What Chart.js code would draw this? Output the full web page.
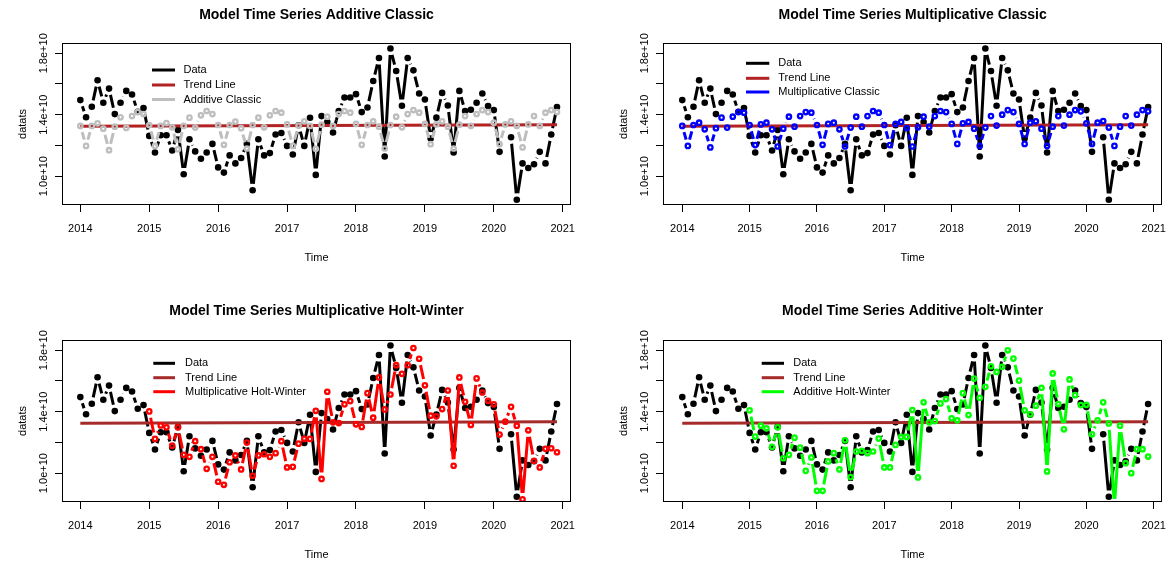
<!DOCTYPE html>
<html>
<head>
<meta charset="utf-8">
<script src="https://cdn.jsdelivr.net/npm/chart.js@4.4.0/dist/chart.umd.min.js"></script>
<style>
    body { margin: 0; background: #fff; width: 1176px; height: 566px; overflow: hidden; position: relative; }
    canvas { position: absolute; }
</style>
</head>
<body>
<canvas id="p1" width="600" height="283" style="left:0;top:0"></canvas>
<canvas id="p2" width="576" height="283" style="left:600px;top:0"></canvas>
<canvas id="p3" width="600" height="283" style="left:0;top:283px"></canvas>
<canvas id="p4" width="576" height="283" style="left:600px;top:283px"></canvas>
<script>
// monthly series, Jan 2014 .. Dec 2020, values in units of 1e10
const startYear = 2014;
const xTickYears = [2014, 2015, 2016, 2017, 2018, 2019, 2020, 2021];
const yTickVals = [1.0, 1.2, 1.4, 1.6, 1.8];
const yTickLabels = ['1.0e+10', '', '1.4e+10', '', '1.8e+10'];

const dataSeries = [
    1.495, 1.383, 1.452, 1.624, 1.478, 1.570, 1.404, 1.478, 1.555, 1.532, 1.419, 1.443,
    1.262, 1.154, 1.266, 1.266, 1.167, 1.301, 1.012, 1.240, 1.161, 1.113, 1.154, 1.210,
    1.057, 1.023, 1.135, 1.083, 1.118, 1.210, 0.908, 1.240, 1.135, 1.150, 1.271, 1.281,
    1.197, 1.141, 1.331, 1.197, 1.380, 1.008, 1.391, 1.353, 1.284, 1.424, 1.512, 1.512,
    1.534, 1.417, 1.447, 1.620, 1.769, 1.128, 1.831, 1.685, 1.458, 1.769, 1.689, 1.538,
    1.499, 1.245, 1.381, 1.542, 1.460, 1.154, 1.555, 1.424, 1.432, 1.478, 1.538, 1.456,
    1.430, 1.158, null, 1.253, 0.846, 1.083, 1.053, 1.077, 1.158, 1.083, 1.271, 1.450
];

const additiveClassic = [
    1.327, 1.197, 1.327, 1.344, 1.309, 1.169, 1.322, 1.383, 1.314, 1.391, 1.417, 1.404,
    1.333, 1.197, 1.327, 1.346, 1.318, 1.175, 1.327, 1.381, 1.316, 1.396, 1.424, 1.404,
    1.333, 1.204, 1.333, 1.355, 1.312, 1.180, 1.333, 1.381, 1.318, 1.396, 1.424, 1.413,
    1.337, 1.197, 1.329, 1.357, 1.327, 1.178, 1.335, 1.387, 1.327, 1.404, 1.424, 1.413,
    1.340, 1.204, 1.333, 1.357, 1.322, 1.180, 1.333, 1.387, 1.318, 1.404, 1.430, 1.413,
    1.340, 1.208, 1.337, 1.357, 1.322, 1.180, 1.335, 1.391, 1.327, 1.404, 1.430, 1.417,
    1.348, 1.208, 1.337, 1.357, 1.327, 1.187, 1.337, 1.391, 1.327, 1.413, 1.430, 1.417
];

const multiplicativeClassic = [
    1.327, 1.197, 1.333, 1.348, 1.305, 1.187, 1.312, 1.381, 1.316, 1.387, 1.417, 1.413,
    1.333, 1.202, 1.337, 1.348, 1.305, 1.193, 1.309, 1.387, 1.322, 1.391, 1.417, 1.413,
    1.333, 1.204, 1.340, 1.348, 1.305, 1.193, 1.316, 1.387, 1.322, 1.391, 1.424, 1.413,
    1.333, 1.202, 1.340, 1.353, 1.313, 1.193, 1.318, 1.387, 1.322, 1.391, 1.424, 1.417,
    1.340, 1.210, 1.344, 1.353, 1.309, 1.197, 1.316, 1.391, 1.329, 1.400, 1.430, 1.417,
    1.340, 1.210, 1.348, 1.357, 1.309, 1.197, 1.322, 1.391, 1.329, 1.400, 1.430, 1.422,
    1.344, 1.210, 1.348, 1.359, 1.316, 1.197, 1.322, 1.391, 1.329, 1.400, 1.430, 1.422
];

// Holt-Winters fits start in 2015
const multiplicativeHW = [
    null, null, null, null, null, null, null, null, null, null, null, null,
    1.402, 1.223, 1.311, 1.298, 1.179, 1.298, 1.119, 1.106, 1.208, 1.156, 1.028, 1.106,
    0.944, 0.924, 1.071, 1.115, 1.024, 1.199, 0.983, 1.115, 1.123, 1.106, 1.130, 1.208,
    1.037, 1.041, 1.192, 1.223, 1.223, 1.406, 0.962, 1.530, 1.331, 1.326, 1.448, 1.469,
    1.318, 1.301, 1.521, 1.361, 1.623, 1.415, 1.512, 1.703, 1.647, 1.703, 1.815, 1.745,
    1.572, 1.374, 1.370, 1.417, 1.538, 1.048, 1.623, 1.465, 1.314, 1.617, 1.525, 1.471,
    1.448, 1.251, 1.335, 1.432, 1.309, 0.829, 1.279, 1.080, 1.037, 1.158, 1.162, 1.136
];

const additiveHW = [
    null, null, null, null, null, null, null, null, null, null, null, null,
    1.409, 1.238, 1.309, 1.292, 1.171, 1.298, 1.097, 1.119, 1.231, 1.166, 1.015, 1.102,
    0.885, 0.885, 1.076, 1.130, 1.024, 1.214, 0.974, 1.141, 1.145, 1.130, 1.141, 1.225,
    1.037, 1.037, 1.184, 1.236, 1.236, 1.411, 0.972, 1.461, 1.331, 1.339, 1.454, 1.482,
    1.357, 1.344, 1.521, 1.378, 1.616, 1.491, 1.562, 1.696, 1.659, 1.692, 1.800, 1.746,
    1.603, 1.409, 1.383, 1.439, 1.556, 1.011, 1.649, 1.450, 1.285, 1.610, 1.508, 1.443,
    1.445, 1.253, 1.344, 1.461, 1.324, 0.790, 1.309, 1.065, 1.000, 1.156, 1.156, 1.108
];

const trendTimes = [2014, 2020.917];
const trendVals = [1.325, 1.335];

const FONT = '"Liberation Sans", Arial, Helvetica, sans-serif';
const GAP = 6.5; // R type="b" leaves a gap round each point

const monthTimes = dataSeries.map((_, i) => startYear + i / 12);
const toPoints = (vals) => vals.map((v, i) => ({ x: monthTimes[i], y: v }));

// draws the broken line segments of R's type="b"
const bTypePlugin = {
    id: 'bType',
    afterDatasetDraw(chart, args) {
        const ds = chart.data.datasets[args.index];
        if (!ds.gapLine) return;
        const pts = args.meta.data;
        const a = chart.chartArea;
        const ctx = chart.ctx;
        ctx.save();
        ctx.beginPath();
        ctx.rect(a.left, a.top, a.right - a.left, a.bottom - a.top);
        ctx.clip();
        ctx.strokeStyle = ds.lineColor;
        ctx.lineWidth = 3;
        ctx.lineCap = 'butt';
        ctx.beginPath();
        for (let i = 1; i < pts.length; i++) {
            const p = pts[i - 1], q = pts[i];
            if (p.skip || q.skip) continue;
            const dx = q.x - p.x, dy = q.y - p.y;
            const len = Math.hypot(dx, dy);
            if (len <= 2 * GAP) continue;
            const ux = dx / len, uy = dy / len;
            ctx.moveTo(p.x + ux * GAP, p.y + uy * GAP);
            ctx.lineTo(q.x - ux * GAP, q.y - uy * GAP);
        }
        ctx.stroke();
        ctx.restore();
    }
};

// box, title, axis titles, y tick labels and legend
const decoPlugin = {
    id: 'deco',
    afterDraw(chart, args, o) {
        const ctx = chart.ctx;
        const a = chart.chartArea;
        const yScale = chart.scales.y;
        ctx.save();
        ctx.strokeStyle = '#000';
        ctx.lineWidth = 1;
        ctx.strokeRect(Math.round(a.left) + 0.5, Math.round(a.top) + 0.5,
            Math.round(a.right - a.left) - 1, Math.round(a.bottom - a.top) - 1);

        ctx.fillStyle = '#000';
        ctx.textAlign = 'center';
        ctx.textBaseline = 'middle';
        ctx.font = 'bold 14px ' + FONT;
        ctx.fillText(o.title, (a.left + a.right) / 2, o.titleY);

        ctx.font = '11px ' + FONT;
        ctx.fillText('Time', (a.left + a.right) / 2, o.timeY);

        ctx.save();
        ctx.translate(o.yTitleX, (a.top + a.bottom) / 2);
        ctx.rotate(-Math.PI / 2);
        ctx.fillText('datats', 0, 0);
        ctx.restore();

        yTickVals.forEach((v, i) => {
            if (!yTickLabels[i]) return;
            ctx.save();
            ctx.translate(o.yLabelX, yScale.getPixelForValue(v));
            ctx.rotate(-Math.PI / 2);
            ctx.fillText(yTickLabels[i], 0, 0);
            ctx.restore();
        });

        // legend
        ctx.textAlign = 'left';
        o.legend.items.forEach((it, i) => {
            const ly = o.legend.ys[i];
            ctx.strokeStyle = it.color;
            ctx.lineWidth = 3;
            ctx.beginPath();
            ctx.moveTo(o.legend.x1, ly);
            ctx.lineTo(o.legend.x2, ly);
            ctx.stroke();
            ctx.fillStyle = '#000';
            ctx.fillText(it.label, o.legend.tx, ly);
        });
        ctx.restore();
    }
};

function makePanel(id, cfg) {
    const canvas = document.getElementById(id);
    const W = canvas.width, H = canvas.height;
    const area = cfg.area;

    new Chart(canvas.getContext('2d'), {
        type: 'scatter',
        data: {
            datasets: [
                {
                    label: 'Data',
                    data: toPoints(dataSeries),
                    showLine: false,
                    gapLine: true,
                    lineColor: '#000000',
                    pointRadius: 3.3,
                    pointBorderWidth: 0,
                    pointBackgroundColor: '#000000',
                    order: 3
                },
                {
                    label: 'Trend Line',
                    data: trendTimes.map((t, i) => ({ x: t, y: trendVals[i] })),
                    showLine: true,
                    borderColor: cfg.trendColor,
                    borderWidth: 3,
                    pointRadius: 0,
                    order: 2
                },
                {
                    label: cfg.modelLabel,
                    data: toPoints(cfg.model),
                    showLine: false,
                    gapLine: true,
                    lineColor: cfg.modelColor,
                    pointRadius: 2.2,
                    pointBorderWidth: 2.3,
                    pointBorderColor: cfg.modelColor,
                    pointBackgroundColor: 'rgba(0,0,0,0)',
                    order: 1
                }
            ]
        },
        options: {
            responsive: false,
            animation: false,
            events: [],
            layout: {
                autoPadding: false,
                padding: { left: 0, top: area.top, right: W - area.right, bottom: 0 }
            },
            plugins: {
                legend: { display: false },
                tooltip: { enabled: false },
                deco: cfg.deco
            },
            scales: {
                x: {
                    type: 'linear',
                    min: cfg.xMin,
                    max: cfg.xMax,
                    afterBuildTicks: (scale) => { scale.ticks = xTickYears.map(v => ({ value: v })); },
                    afterFit: (scale) => { scale.height = H - area.bottom; },
                    grid: { drawOnChartArea: false, drawTicks: true, tickLength: 7, color: '#000', lineWidth: 1 },
                    border: { display: false },
                    ticks: {
                        autoSkip: false,
                        maxRotation: 0,
                        padding: 10,
                        color: '#000',
                        font: { family: FONT, size: 11 },
                        callback: (v) => String(v)
                    }
                },
                y: {
                    type: 'linear',
                    min: 0.812,
                    max: 1.867,
                    afterBuildTicks: (scale) => { scale.ticks = yTickVals.map(v => ({ value: v })); },
                    afterFit: (scale) => { scale.width = area.left; },
                    grid: { drawOnChartArea: false, drawTicks: true, tickLength: 7, color: '#000', lineWidth: 1 },
                    border: { display: false },
                    ticks: { display: false }
                }
            }
        },
        plugins: [bTypePlugin, decoPlugin]
    });
}

makePanel('p1', {
    area: { left: 62, right: 571, top: 43, bottom: 205 },
    xMin: 2013.734, xMax: 2021.12,
    model: additiveClassic, modelColor: '#bebebe', modelLabel: 'Additive Classic',
    trendColor: '#b22222',
    deco: {
        title: 'Model Time Series Additive Classic', titleY: 15, timeY: 258,
        yTitleX: 22.7, yLabelX: 43.5,
        legend: {
            x1: 152, x2: 175, tx: 183.5, ys: [70, 85, 99.5],
            items: [
                { label: 'Data', color: '#000000' },
                { label: 'Trend Line', color: '#b22222' },
                { label: 'Additive Classic', color: '#bebebe' }
            ]
        }
    }
});

makePanel('p2', {
    area: { left: 63, right: 574, top: 43, bottom: 205 },
    xMin: 2013.714, xMax: 2021.126,
    model: multiplicativeClassic, modelColor: '#0000ff', modelLabel: 'Multiplicative Classic',
    trendColor: '#b22222',
    deco: {
        title: 'Model Time Series Multiplicative Classic', titleY: 15, timeY: 258,
        yTitleX: 23.7, yLabelX: 44.5,
        legend: {
            x1: 146, x2: 169.3, tx: 178.3, ys: [63.3, 78.3, 92],
            items: [
                { label: 'Data', color: '#000000' },
                { label: 'Trend Line', color: '#b22222' },
                { label: 'Multiplicative Classic', color: '#0000ff' }
            ]
        }
    }
});

makePanel('p3', {
    area: { left: 62, right: 571, top: 57, bottom: 219 },
    xMin: 2013.734, xMax: 2021.12,
    model: multiplicativeHW, modelColor: '#ff0000', modelLabel: 'Multiplicative Holt-Winter',
    trendColor: '#a52a2a',
    deco: {
        title: 'Model Time Series Multiplicative Holt-Winter', titleY: 28, timeY: 272,
        yTitleX: 22.7, yLabelX: 43.5,
        legend: {
            x1: 153.3, x2: 175, tx: 185, ys: [80.3, 94.7, 108.7],
            items: [
                { label: 'Data', color: '#000000' },
                { label: 'Trend Line', color: '#a52a2a' },
                { label: 'Multiplicative Holt-Winter', color: '#ff0000' }
            ]
        }
    }
});

makePanel('p4', {
    area: { left: 63, right: 574, top: 57, bottom: 219 },
    xMin: 2013.714, xMax: 2021.126,
    model: additiveHW, modelColor: '#00ff00', modelLabel: 'Additive Holt-Winter',
    trendColor: '#a52a2a',
    deco: {
        title: 'Model Time Series Additive Holt-Winter', titleY: 28, timeY: 272,
        yTitleX: 23.7, yLabelX: 44.5,
        legend: {
            x1: 161.7, x2: 184, tx: 193.3, ys: [80.3, 94.7, 108.7],
            items: [
                { label: 'Data', color: '#000000' },
                { label: 'Trend Line', color: '#a52a2a' },
                { label: 'Additive Holt-Winter', color: '#00ff00' }
            ]
        }
    }
});
</script>
</body>
</html>
